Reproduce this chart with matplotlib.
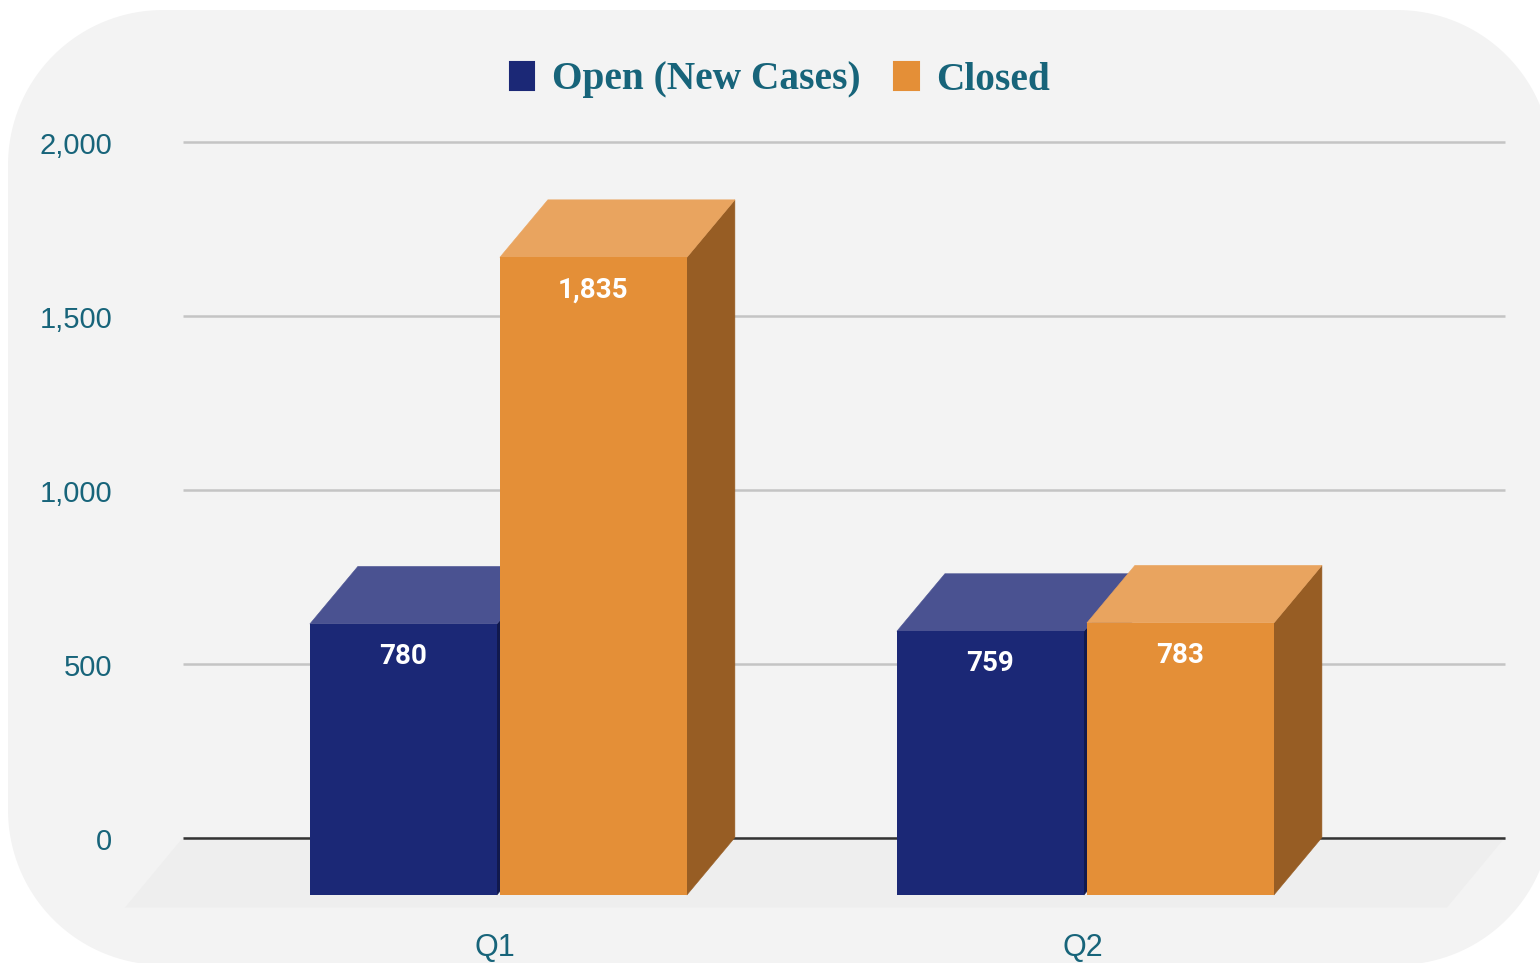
import numpy as np
from matplotlib import pyplot as plt
from matplotlib.patches import Patch, PathPatch
from matplotlib.path import Path
from matplotlib.transforms import ScaledTranslation

# data
quarters = ['Q1', 'Q2']
open_cases = [780, 759]
closed_cases = [1835, 783]
y_ticks = [0, 500, 1000, 1500, 2000]
y_tick_labels = ['0', '500', '1,000', '1,500', '2,000']

series = [
    ('Open (New Cases)', open_cases, '#1b2876', '#4a5291', '#11194d'),
    ('Closed', closed_cases, '#e48f37', '#e9a45f', '#975d24'),
]

W, H = 1540, 963
TEAL = '#17647a'

fig = plt.figure(figsize=(W / 100, H / 100), dpi=100, facecolor='white')

# panel behind the chart, in pixel coordinates
bg = fig.add_axes([0, 0, 1, 1])
bg.set_xlim(0, W)
bg.set_ylim(H, 0)
bg.axis('off')


def round_panel(x0, y0, x1, y1, r):
    pts = []
    for cx, cy, start in [(x1 - r, y0 + r, -90), (x1 - r, y1 - r, 0), (x0 + r, y1 - r, 90), (x0 + r, y0 + r, 180)]:
        t = np.radians(np.linspace(start, start + 90, 40))
        pts.append(np.column_stack([cx + r * np.cos(t), cy + r * np.sin(t)]))
    pts = np.vstack(pts)
    return Path(np.vstack([pts, pts[0]]), closed=True)


bg.add_patch(PathPatch(round_panel(8, 10, 1552, 965, 155), fc='#f3f3f3', ec='none'))

# plot area: gridlines run from px 183 to 1505, 0 at py 837, 2000 at py 142
ax = fig.add_axes([183 / W, 1 - 837.5 / H, (1505 - 183) / W, 695 / H])
ax.patch.set_alpha(0)
ax.set_xlim(-0.619, 1.633)
ax.set_ylim(0, 2000)
for s in ax.spines.values():
    s.set_visible(False)

px_x = 1 / 587  # data units per pixel
px_y = 2000 / 695
bar_w = 187 * px_x
bar_step = 190 * px_x
depth_x = 48 * px_x
depth_y = 57.5 * px_y
floor_x = 58 * px_x
floor_y = 70 * px_y

ax.set_axisbelow(True)
ax.grid(axis='y', color='#c4c4c4', lw=1.8, zorder=1, clip_on=False, solid_capstyle='butt')
x_lo, x_hi = ax.get_xlim()
ax.fill([x_lo, x_hi, x_hi - floor_x, x_lo - floor_x], [0, 0, -floor_y, -floor_y],
        color='#eeeeee', lw=0, zorder=1.5, clip_on=False)
ax.axhline(0, color='#333333', lw=1.8, zorder=2, clip_on=False, solid_capstyle='butt')

x = np.arange(len(quarters))
for i, (name, values, front, top, side) in enumerate(series):
    z = 3 + i
    # front centre of this series, relative to the back centre of the group
    xs = x + (i - 0.5) * bar_step - depth_x
    for xc, v in zip(xs, values):
        l, r = xc - bar_w / 2, xc + bar_w / 2
        y0, y1 = -depth_y, v - depth_y
        # small same-colour edge so the faces leave no seam between them
        ax.fill([r, r + depth_x, r + depth_x, r], [y0, 0, v, y1], color=side, lw=0.4, zorder=z, clip_on=False)
        ax.fill([l, r, r + depth_x, l + depth_x], [y1, y1, v, v], color=top, lw=0.4, zorder=z, clip_on=False)
        ax.annotate(f'{v:,}', (xc, y1), xytext=(0, -32.5 * 0.72), textcoords='offset points',
                    ha='center', va='center', color='white', fontsize=20, fontweight='bold',
                    family=['Roboto', 'DejaVu Sans'], zorder=10, annotation_clip=False)
    ax.bar(xs, values, width=bar_w, bottom=y0, color=front, lw=0, zorder=z + 0.5, clip_on=False)

ax.set_yticks(y_ticks)
ax.set_yticklabels(y_tick_labels, color=TEAL, fontsize=21, family=['Liberation Sans'])
ax.set_xticks(x - depth_x - 3 * px_x)
ax.set_xticklabels(quarters, color=TEAL, fontsize=22, family=['Liberation Sans'])
ax.tick_params(axis='y', length=0, pad=51)
ax.tick_params(axis='x', length=0, pad=68.5)
# y labels sit 1 px under their gridlines
for lab in ax.get_yticklabels():
    lab.set_transform(lab.get_transform() + ScaledTranslation(0, -1 / 100, fig.dpi_scale_trans))

handles = [Patch(fc=s[2], ec=s[2], lw=1.5, joinstyle='round', label=s[0]) for s in series]
leg = bg.legend(handles=handles, loc='center', bbox_to_anchor=(780, 80), bbox_transform=bg.transData,
                ncol=2, frameon=False, handlelength=0.62, handleheight=0.72, handletextpad=0.44,
                columnspacing=0.86, borderpad=0,
                prop={'family': ['Liberation Serif'], 'weight': 'bold', 'size': 28.4})
for t in leg.get_texts():
    t.set_color(TEAL)

fig.savefig('out.png', dpi=100)
